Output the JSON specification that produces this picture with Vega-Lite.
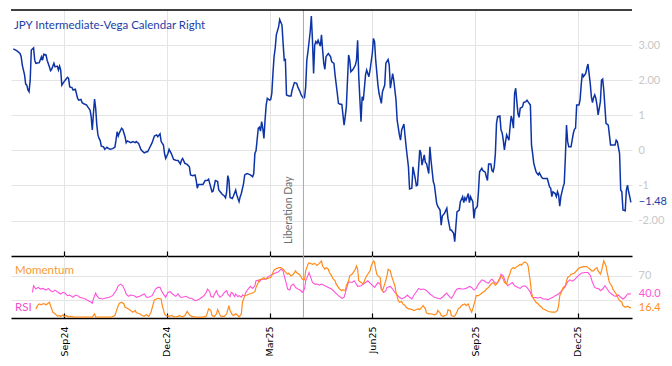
{
"$schema": "https://vega.github.io/schema/vega-lite/v6.json",
"padding": {"left": 10, "top": 9, "right": 0, "bottom": 0},
"config": {"view": {"stroke": null}, "font": "Lato"},
"spacing": 0,
"bounds": "flush",
"datasets": {
"main": [
{"d":"2024-07-19","v":2.89},{"d":"2024-07-22","v":2.84},{"d":"2024-07-25","v":2.76},{"d":"2024-07-26","v":2.67},{"d":"2024-07-27","v":2.43},{"d":"2024-07-29","v":2.15},{"d":"2024-07-30","v":1.89},{"d":"2024-07-31","v":1.86},{"d":"2024-08-01","v":1.72},{"d":"2024-08-02","v":1.67},{"d":"2024-08-03","v":2.00},{"d":"2024-08-04","v":2.86},{"d":"2024-08-06","v":2.92},{"d":"2024-08-07","v":2.57},{"d":"2024-08-08","v":2.48},{"d":"2024-08-11","v":2.50},{"d":"2024-08-13","v":2.67},{"d":"2024-08-14","v":2.57},{"d":"2024-08-15","v":2.74},{"d":"2024-08-17","v":2.72},{"d":"2024-08-18","v":2.57},{"d":"2024-08-20","v":2.38},{"d":"2024-08-21","v":2.27},{"d":"2024-08-22","v":2.31},{"d":"2024-08-24","v":2.48},{"d":"2024-08-25","v":2.38},{"d":"2024-08-27","v":2.40},{"d":"2024-08-28","v":2.29},{"d":"2024-08-29","v":2.40},{"d":"2024-08-30","v":2.29},{"d":"2024-08-31","v":1.86},
{"d":"2024-09-01","v":1.91},{"d":"2024-09-03","v":2.00},{"d":"2024-09-05","v":2.08},{"d":"2024-09-06","v":2.05},{"d":"2024-09-07","v":1.81},{"d":"2024-09-09","v":1.79},{"d":"2024-09-10","v":1.72},{"d":"2024-09-12","v":1.74},{"d":"2024-09-14","v":1.48},{"d":"2024-09-15","v":1.43},{"d":"2024-09-17","v":1.45},{"d":"2024-09-18","v":1.36},{"d":"2024-09-20","v":1.32},{"d":"2024-09-22","v":1.29},{"d":"2024-09-23","v":1.24},{"d":"2024-09-25","v":1.15},{"d":"2024-09-26","v":0.96},{"d":"2024-09-27","v":0.58},{"d":"2024-09-28","v":1.05},{"d":"2024-09-29","v":1.46},{"d":"2024-09-30","v":1.20},
{"d":"2024-10-01","v":0.72},{"d":"2024-10-02","v":0.44},{"d":"2024-10-03","v":0.34},{"d":"2024-10-04","v":0.28},{"d":"2024-10-05","v":0.12},{"d":"2024-10-07","v":0.10},{"d":"2024-10-08","v":0.03},{"d":"2024-10-10","v":0.09},{"d":"2024-10-11","v":0.06},{"d":"2024-10-13","v":0.03},{"d":"2024-10-15","v":0.05},{"d":"2024-10-17","v":0.09},{"d":"2024-10-18","v":0.29},{"d":"2024-10-19","v":0.53},{"d":"2024-10-20","v":0.41},{"d":"2024-10-21","v":0.50},{"d":"2024-10-23","v":0.63},{"d":"2024-10-24","v":0.60},{"d":"2024-10-26","v":0.39},{"d":"2024-10-27","v":0.22},{"d":"2024-10-28","v":0.27},{"d":"2024-10-31","v":0.22},
{"d":"2024-11-02","v":0.25},{"d":"2024-11-04","v":0.22},{"d":"2024-11-05","v":0.25},{"d":"2024-11-07","v":0.20},{"d":"2024-11-09","v":0.03},{"d":"2024-11-10","v":-0.01},{"d":"2024-11-12","v":-0.07},{"d":"2024-11-14","v":-0.04},{"d":"2024-11-15","v":-0.04},{"d":"2024-11-17","v":0.09},{"d":"2024-11-19","v":0.22},{"d":"2024-11-21","v":0.41},{"d":"2024-11-23","v":0.44},{"d":"2024-11-24","v":0.39},{"d":"2024-11-26","v":0.47},{"d":"2024-11-27","v":0.25},{"d":"2024-11-29","v":0.15},{"d":"2024-11-30","v":-0.09},
{"d":"2024-12-01","v":-0.23},{"d":"2024-12-03","v":-0.09},{"d":"2024-12-04","v":0.03},{"d":"2024-12-06","v":-0.09},{"d":"2024-12-08","v":-0.26},{"d":"2024-12-10","v":-0.28},{"d":"2024-12-12","v":-0.29},{"d":"2024-12-14","v":-0.39},{"d":"2024-12-15","v":-0.28},{"d":"2024-12-16","v":-0.23},{"d":"2024-12-18","v":-0.37},{"d":"2024-12-20","v":-0.40},{"d":"2024-12-22","v":-0.47},{"d":"2024-12-23","v":-0.70},{"d":"2024-12-25","v":-0.72},{"d":"2024-12-27","v":-0.70},{"d":"2024-12-28","v":-0.85},{"d":"2024-12-29","v":-1.08},{"d":"2024-12-30","v":-0.97},
{"d":"2025-01-01","v":-0.97},{"d":"2025-01-03","v":-0.97},{"d":"2025-01-05","v":-0.86},{"d":"2025-01-07","v":-0.85},{"d":"2025-01-08","v":-0.82},{"d":"2025-01-09","v":-0.94},{"d":"2025-01-11","v":-1.18},{"d":"2025-01-12","v":-1.16},{"d":"2025-01-13","v":-1.01},{"d":"2025-01-14","v":-0.86},{"d":"2025-01-16","v":-0.89},{"d":"2025-01-17","v":-1.13},{"d":"2025-01-19","v":-1.21},{"d":"2025-01-20","v":-1.25},{"d":"2025-01-22","v":-1.30},{"d":"2025-01-23","v":-1.35},{"d":"2025-01-24","v":-1.18},{"d":"2025-01-25","v":-0.72},{"d":"2025-01-26","v":-0.85},{"d":"2025-01-27","v":-1.34},{"d":"2025-01-29","v":-1.37},{"d":"2025-01-30","v":-1.30},
{"d":"2025-02-01","v":-1.13},{"d":"2025-02-02","v":-1.27},{"d":"2025-02-03","v":-1.37},{"d":"2025-02-04","v":-1.46},{"d":"2025-02-05","v":-1.32},{"d":"2025-02-06","v":-1.23},{"d":"2025-02-08","v":-0.94},{"d":"2025-02-09","v":-0.70},{"d":"2025-02-11","v":-0.66},{"d":"2025-02-12","v":-0.67},{"d":"2025-02-14","v":-0.70},{"d":"2025-02-16","v":-0.75},{"d":"2025-02-17","v":-0.66},{"d":"2025-02-18","v":-0.09},{"d":"2025-02-19","v":-0.01},{"d":"2025-02-21","v":0.63},{"d":"2025-02-22","v":0.66},{"d":"2025-02-23","v":0.55},{"d":"2025-02-24","v":0.82},{"d":"2025-02-25","v":0.63},{"d":"2025-02-26","v":0.34},{"d":"2025-02-27","v":0.86},{"d":"2025-02-28","v":1.29},
{"d":"2025-03-01","v":1.48},{"d":"2025-03-03","v":1.43},{"d":"2025-03-04","v":1.45},{"d":"2025-03-05","v":1.62},{"d":"2025-03-06","v":2.19},{"d":"2025-03-07","v":2.67},{"d":"2025-03-08","v":2.91},{"d":"2025-03-09","v":3.29},{"d":"2025-03-11","v":3.52},{"d":"2025-03-12","v":3.73},{"d":"2025-03-14","v":3.57},{"d":"2025-03-15","v":3.05},{"d":"2025-03-16","v":2.57},{"d":"2025-03-17","v":2.59},{"d":"2025-03-18","v":1.58},{"d":"2025-03-20","v":1.55},{"d":"2025-03-22","v":1.55},{"d":"2025-03-23","v":1.72},{"d":"2025-03-25","v":1.93},{"d":"2025-03-27","v":1.91},{"d":"2025-03-28","v":1.81},{"d":"2025-03-30","v":1.67},{"d":"2025-03-31","v":1.58},
{"d":"2025-04-02","v":1.48},{"d":"2025-04-03","v":1.51},{"d":"2025-04-04","v":1.81},{"d":"2025-04-05","v":2.57},{"d":"2025-04-06","v":2.81},{"d":"2025-04-08","v":3.38},{"d":"2025-04-09","v":3.83},{"d":"2025-04-10","v":3.14},{"d":"2025-04-11","v":2.19},{"d":"2025-04-12","v":3.00},{"d":"2025-04-13","v":3.10},{"d":"2025-04-14","v":3.05},{"d":"2025-04-15","v":3.14},{"d":"2025-04-17","v":2.97},{"d":"2025-04-18","v":3.29},{"d":"2025-04-19","v":2.86},{"d":"2025-04-20","v":2.48},{"d":"2025-04-21","v":2.31},{"d":"2025-04-22","v":2.67},{"d":"2025-04-24","v":2.76},{"d":"2025-04-26","v":2.67},{"d":"2025-04-27","v":2.53},{"d":"2025-04-29","v":2.48},{"d":"2025-04-30","v":2.15},
{"d":"2025-05-02","v":1.62},{"d":"2025-05-03","v":1.34},{"d":"2025-05-04","v":1.32},{"d":"2025-05-06","v":1.31},{"d":"2025-05-08","v":0.72},{"d":"2025-05-09","v":0.96},{"d":"2025-05-10","v":1.24},{"d":"2025-05-12","v":2.72},{"d":"2025-05-13","v":2.57},{"d":"2025-05-14","v":2.24},{"d":"2025-05-16","v":2.31},{"d":"2025-05-18","v":2.43},{"d":"2025-05-19","v":2.57},{"d":"2025-05-20","v":3.14},{"d":"2025-05-21","v":2.10},{"d":"2025-05-23","v":0.82},{"d":"2025-05-24","v":1.53},{"d":"2025-05-25","v":1.42},{"d":"2025-05-27","v":2.15},{"d":"2025-05-28","v":2.29},{"d":"2025-05-30","v":2.10},{"d":"2025-05-31","v":2.29},
{"d":"2025-06-02","v":2.76},{"d":"2025-06-03","v":3.19},{"d":"2025-06-04","v":3.10},{"d":"2025-06-05","v":2.57},{"d":"2025-06-07","v":1.86},{"d":"2025-06-08","v":1.62},{"d":"2025-06-10","v":1.34},{"d":"2025-06-11","v":1.67},{"d":"2025-06-13","v":1.86},{"d":"2025-06-14","v":2.48},{"d":"2025-06-16","v":2.59},{"d":"2025-06-17","v":2.43},{"d":"2025-06-18","v":1.77},{"d":"2025-06-20","v":2.19},{"d":"2025-06-21","v":2.00},{"d":"2025-06-23","v":1.43},{"d":"2025-06-24","v":0.86},{"d":"2025-06-26","v":0.44},{"d":"2025-06-27","v":0.29},{"d":"2025-06-28","v":0.58},{"d":"2025-06-30","v":0.75},
{"d":"2025-07-01","v":0.41},{"d":"2025-07-02","v":0.09},{"d":"2025-07-04","v":-0.47},{"d":"2025-07-05","v":-1.10},{"d":"2025-07-07","v":-1.08},{"d":"2025-07-08","v":-0.47},{"d":"2025-07-10","v":-0.80},{"d":"2025-07-11","v":-1.01},{"d":"2025-07-12","v":-0.99},{"d":"2025-07-14","v":0.01},{"d":"2025-07-15","v":-0.07},{"d":"2025-07-16","v":-0.42},{"d":"2025-07-18","v":-0.13},{"d":"2025-07-19","v":-0.35},{"d":"2025-07-20","v":-0.37},{"d":"2025-07-22","v":-0.66},{"d":"2025-07-23","v":0.10},{"d":"2025-07-24","v":-0.28},{"d":"2025-07-26","v":-0.89},{"d":"2025-07-27","v":-0.99},{"d":"2025-07-29","v":-1.51},{"d":"2025-07-30","v":-1.60},
{"d":"2025-08-01","v":-1.70},{"d":"2025-08-02","v":-2.13},{"d":"2025-08-03","v":-1.87},{"d":"2025-08-05","v":-1.79},{"d":"2025-08-07","v":-1.65},{"d":"2025-08-08","v":-1.94},{"d":"2025-08-10","v":-2.27},{"d":"2025-08-11","v":-2.27},{"d":"2025-08-13","v":-2.36},{"d":"2025-08-14","v":-2.60},{"d":"2025-08-15","v":-2.17},{"d":"2025-08-16","v":-1.75},{"d":"2025-08-18","v":-1.70},{"d":"2025-08-19","v":-1.46},{"d":"2025-08-21","v":-1.32},{"d":"2025-08-22","v":-1.49},{"d":"2025-08-23","v":-1.35},{"d":"2025-08-24","v":-1.42},{"d":"2025-08-26","v":-1.23},{"d":"2025-08-27","v":-1.49},{"d":"2025-08-28","v":-1.32},{"d":"2025-08-30","v":-1.46},{"d":"2025-08-31","v":-1.94},
{"d":"2025-09-01","v":-1.68},{"d":"2025-09-03","v":-1.60},{"d":"2025-09-04","v":-1.18},{"d":"2025-09-05","v":-0.61},{"d":"2025-09-07","v":-0.51},{"d":"2025-09-08","v":-0.58},{"d":"2025-09-10","v":-0.62},{"d":"2025-09-11","v":-0.75},{"d":"2025-09-12","v":-0.86},{"d":"2025-09-13","v":-0.39},{"d":"2025-09-15","v":-0.39},{"d":"2025-09-16","v":-0.58},{"d":"2025-09-17","v":-0.61},{"d":"2025-09-18","v":-0.47},{"d":"2025-09-19","v":-0.09},{"d":"2025-09-20","v":0.77},{"d":"2025-09-21","v":0.96},{"d":"2025-09-23","v":0.98},{"d":"2025-09-24","v":0.58},{"d":"2025-09-25","v":0.50},{"d":"2025-09-26","v":0.29},{"d":"2025-09-27","v":0.01},{"d":"2025-09-28","v":0.25},{"d":"2025-09-29","v":0.44},
{"d":"2025-10-01","v":0.29},{"d":"2025-10-02","v":0.67},{"d":"2025-10-03","v":0.98},{"d":"2025-10-04","v":0.86},{"d":"2025-10-05","v":0.63},{"d":"2025-10-06","v":1.62},{"d":"2025-10-07","v":1.77},{"d":"2025-10-08","v":1.39},{"d":"2025-10-09","v":1.05},{"d":"2025-10-10","v":0.94},{"d":"2025-10-11","v":1.20},{"d":"2025-10-13","v":1.24},{"d":"2025-10-14","v":1.36},{"d":"2025-10-16","v":1.39},{"d":"2025-10-17","v":1.43},{"d":"2025-10-18","v":1.38},{"d":"2025-10-20","v":1.29},{"d":"2025-10-21","v":0.15},{"d":"2025-10-22","v":-0.09},{"d":"2025-10-23","v":-0.37},{"d":"2025-10-25","v":-0.61},{"d":"2025-10-26","v":-0.66},{"d":"2025-10-27","v":-0.70},{"d":"2025-10-28","v":-0.64},{"d":"2025-10-30","v":-0.77},{"d":"2025-10-31","v":-0.80},
{"d":"2025-11-02","v":-0.80},{"d":"2025-11-04","v":-0.80},{"d":"2025-11-06","v":-1.04},{"d":"2025-11-07","v":-1.08},{"d":"2025-11-08","v":-1.32},{"d":"2025-11-09","v":-1.18},{"d":"2025-11-11","v":-1.23},{"d":"2025-11-12","v":-1.32},{"d":"2025-11-13","v":-1.18},{"d":"2025-11-14","v":-1.27},{"d":"2025-11-15","v":-1.59},{"d":"2025-11-16","v":-1.32},{"d":"2025-11-18","v":-1.04},{"d":"2025-11-19","v":-0.94},{"d":"2025-11-20","v":-0.18},{"d":"2025-11-21","v":0.72},{"d":"2025-11-22","v":0.25},{"d":"2025-11-23","v":0.10},{"d":"2025-11-25","v":0.10},{"d":"2025-11-27","v":0.48},{"d":"2025-11-28","v":0.60},{"d":"2025-11-29","v":0.63},{"d":"2025-11-30","v":1.29},
{"d":"2025-12-02","v":1.29},{"d":"2025-12-03","v":1.43},{"d":"2025-12-04","v":1.86},{"d":"2025-12-05","v":2.19},{"d":"2025-12-06","v":2.10},{"d":"2025-12-08","v":2.19},{"d":"2025-12-09","v":2.34},{"d":"2025-12-10","v":2.46},{"d":"2025-12-12","v":1.91},{"d":"2025-12-13","v":1.53},{"d":"2025-12-14","v":1.36},{"d":"2025-12-15","v":1.51},{"d":"2025-12-16","v":1.58},{"d":"2025-12-17","v":1.48},{"d":"2025-12-18","v":1.29},{"d":"2025-12-19","v":1.01},{"d":"2025-12-21","v":1.39},{"d":"2025-12-22","v":2.00},{"d":"2025-12-23","v":2.03},{"d":"2025-12-24","v":1.72},{"d":"2025-12-25","v":1.24},{"d":"2025-12-26","v":0.77},{"d":"2025-12-28","v":0.72},{"d":"2025-12-29","v":0.44},{"d":"2025-12-30","v":0.15},
{"d":"2026-01-01","v":0.15},{"d":"2026-01-03","v":0.15},{"d":"2026-01-04","v":0.29},{"d":"2026-01-05","v":0.25},{"d":"2026-01-07","v":-0.09},{"d":"2026-01-08","v":-1.13},{"d":"2026-01-09","v":-1.18},{"d":"2026-01-10","v":-1.70},{"d":"2026-01-12","v":-1.72},{"d":"2026-01-13","v":-1.13},{"d":"2026-01-14","v":-0.99},{"d":"2026-01-15","v":-1.18},{"d":"2026-01-16","v":-1.32},{"d":"2026-01-17","v":-1.48}
],
"rsi": [
{"d":"2024-08-05","v":42.6},{"d":"2024-08-06","v":53.6},{"d":"2024-08-08","v":48.1},{"d":"2024-08-10","v":50.8},{"d":"2024-08-12","v":48.1},{"d":"2024-08-14","v":49.2},{"d":"2024-08-17","v":46.4},{"d":"2024-08-19","v":49.2},{"d":"2024-08-21","v":45.3},{"d":"2024-08-23","v":43.7},{"d":"2024-08-25","v":46.4},{"d":"2024-08-27","v":43.7},{"d":"2024-08-30","v":39.9},{"d":"2024-09-01","v":42.6},{"d":"2024-09-03","v":41.0},{"d":"2024-09-05","v":37.1},{"d":"2024-09-07","v":38.2},{"d":"2024-09-10","v":34.4},{"d":"2024-09-12","v":38.2},{"d":"2024-09-14","v":37.1},{"d":"2024-09-16","v":34.4},{"d":"2024-09-19","v":32.7},{"d":"2024-09-21","v":31.6},{"d":"2024-09-23","v":28.9},{"d":"2024-09-26","v":26.2},{"d":"2024-09-27","v":24.5},{"d":"2024-09-28","v":31.6},{"d":"2024-09-30","v":41.5},{"d":"2024-10-01","v":37.1},{"d":"2024-10-03","v":32.7},{"d":"2024-10-06","v":31.6},{"d":"2024-10-09","v":33.3},{"d":"2024-10-12","v":34.4},{"d":"2024-10-15","v":37.1},{"d":"2024-10-18","v":45.3},{"d":"2024-10-20","v":53.6},{"d":"2024-10-22","v":56.3},{"d":"2024-10-24","v":53.6},{"d":"2024-10-26","v":45.3},{"d":"2024-10-27","v":39.9},{"d":"2024-10-29","v":36.0},{"d":"2024-10-31","v":38.2},{"d":"2024-11-03","v":37.1},{"d":"2024-11-05","v":34.4},{"d":"2024-11-08","v":36.0},{"d":"2024-11-10","v":38.2},{"d":"2024-11-12","v":39.9},{"d":"2024-11-14","v":34.4},{"d":"2024-11-16","v":34.4},{"d":"2024-11-19","v":37.1},{"d":"2024-11-22","v":48.1},{"d":"2024-11-24","v":50.8},{"d":"2024-11-26","v":50.8},{"d":"2024-11-28","v":42.6},{"d":"2024-11-30","v":37.1},{"d":"2024-12-01","v":34.4},{"d":"2024-12-03","v":42.6},{"d":"2024-12-05","v":43.7},{"d":"2024-12-07","v":39.9},{"d":"2024-12-10","v":36.0},{"d":"2024-12-12","v":39.9},{"d":"2024-12-14","v":34.4},{"d":"2024-12-16","v":34.4},{"d":"2024-12-19","v":36.0},{"d":"2024-12-22","v":32.7},{"d":"2024-12-24","v":32.7},{"d":"2024-12-27","v":28.9},{"d":"2024-12-29","v":30.0},{"d":"2024-12-31","v":31.6},
{"d":"2025-01-02","v":34.4},{"d":"2025-01-04","v":37.1},{"d":"2025-01-06","v":42.6},{"d":"2025-01-07","v":48.1},{"d":"2025-01-09","v":43.7},{"d":"2025-01-10","v":36.0},{"d":"2025-01-12","v":34.4},{"d":"2025-01-14","v":42.6},{"d":"2025-01-15","v":45.3},{"d":"2025-01-16","v":39.9},{"d":"2025-01-18","v":34.4},{"d":"2025-01-20","v":37.1},{"d":"2025-01-22","v":42.6},{"d":"2025-01-24","v":45.3},{"d":"2025-01-25","v":39.9},{"d":"2025-01-27","v":35.5},{"d":"2025-01-28","v":42.6},{"d":"2025-01-29","v":41.5},{"d":"2025-01-31","v":35.5},{"d":"2025-02-01","v":39.9},{"d":"2025-02-03","v":35.5},{"d":"2025-02-04","v":37.1},{"d":"2025-02-06","v":34.4},{"d":"2025-02-07","v":38.2},{"d":"2025-02-09","v":37.1},{"d":"2025-02-10","v":42.6},{"d":"2025-02-12","v":48.1},{"d":"2025-02-14","v":52.5},{"d":"2025-02-16","v":49.2},{"d":"2025-02-18","v":53.6},{"d":"2025-02-19","v":61.8},{"d":"2025-02-21","v":62.9},{"d":"2025-02-22","v":60.1},{"d":"2025-02-24","v":64.5},{"d":"2025-02-26","v":64.5},{"d":"2025-02-28","v":64.5},{"d":"2025-03-01","v":67.3},{"d":"2025-03-03","v":70.0},{"d":"2025-03-06","v":72.7},{"d":"2025-03-09","v":75.5},{"d":"2025-03-11","v":76.6},{"d":"2025-03-13","v":81.0},{"d":"2025-03-15","v":78.2},{"d":"2025-03-16","v":70.0},{"d":"2025-03-18","v":56.3},{"d":"2025-03-19","v":48.1},{"d":"2025-03-21","v":46.4},{"d":"2025-03-22","v":53.6},{"d":"2025-03-24","v":56.3},{"d":"2025-03-26","v":50.8},{"d":"2025-03-28","v":48.1},{"d":"2025-03-30","v":46.4},{"d":"2025-04-01","v":42.6},{"d":"2025-04-03","v":48.1},{"d":"2025-04-04","v":61.8},{"d":"2025-04-07","v":75.5},{"d":"2025-04-08","v":70.0},{"d":"2025-04-10","v":59.0},{"d":"2025-04-12","v":56.3},{"d":"2025-04-14","v":56.3},{"d":"2025-04-16","v":54.7},
{"d":"2025-04-18","v":56.3},{"d":"2025-04-21","v":53.6},{"d":"2025-04-24","v":50.8},{"d":"2025-04-27","v":48.1},{"d":"2025-04-30","v":42.6},{"d":"2025-05-03","v":37.1},{"d":"2025-05-06","v":32.7},{"d":"2025-05-08","v":34.4},{"d":"2025-05-10","v":48.1},{"d":"2025-05-12","v":60.1},{"d":"2025-05-15","v":59.0},{"d":"2025-05-17","v":61.8},{"d":"2025-05-18","v":59.0},{"d":"2025-05-20","v":52.5},{"d":"2025-05-23","v":53.6},{"d":"2025-05-25","v":56.3},{"d":"2025-05-27","v":59.0},{"d":"2025-05-29","v":61.8},{"d":"2025-06-01","v":56.3},{"d":"2025-06-03","v":52.5},{"d":"2025-06-04","v":50.8},{"d":"2025-06-06","v":56.3},{"d":"2025-06-07","v":59.0},{"d":"2025-06-09","v":56.3},{"d":"2025-06-10","v":48.1},{"d":"2025-06-12","v":42.6},{"d":"2025-06-14","v":45.3},{"d":"2025-06-15","v":50.8},{"d":"2025-06-18","v":52.5},{"d":"2025-06-20","v":48.1},{"d":"2025-06-22","v":42.6},{"d":"2025-06-24","v":38.2},{"d":"2025-06-26","v":34.4},{"d":"2025-06-28","v":31.6},{"d":"2025-07-01","v":34.4},{"d":"2025-07-03","v":38.2},{"d":"2025-07-05","v":34.4},{"d":"2025-07-07","v":31.6},{"d":"2025-07-09","v":38.2},{"d":"2025-07-11","v":43.7},{"d":"2025-07-13","v":49.2},{"d":"2025-07-15","v":46.9},{"d":"2025-07-17","v":48.1},{"d":"2025-07-19","v":46.9},{"d":"2025-07-21","v":43.7},{"d":"2025-07-23","v":39.9},{"d":"2025-07-25","v":37.1},{"d":"2025-07-27","v":34.4},{"d":"2025-07-30","v":32.7},{"d":"2025-08-01","v":31.6},{"d":"2025-08-03","v":34.4},{"d":"2025-08-05","v":38.2},{"d":"2025-08-07","v":41.5},{"d":"2025-08-08","v":38.2},{"d":"2025-08-10","v":34.4},{"d":"2025-08-11","v":32.7},{"d":"2025-08-13","v":38.2},{"d":"2025-08-14","v":42.6},{"d":"2025-08-16","v":48.1},{"d":"2025-08-18","v":49.2},{"d":"2025-08-20","v":48.1},{"d":"2025-08-22","v":48.1},{"d":"2025-08-24","v":49.2},{"d":"2025-08-27","v":52.5},{"d":"2025-08-29","v":50.8},{"d":"2025-08-31","v":46.4},
{"d":"2025-09-02","v":49.2},{"d":"2025-09-04","v":56.3},{"d":"2025-09-07","v":63.4},{"d":"2025-09-09","v":61.8},{"d":"2025-09-11","v":59.0},{"d":"2025-09-13","v":57.9},{"d":"2025-09-15","v":63.4},{"d":"2025-09-16","v":64.5},{"d":"2025-09-18","v":60.1},{"d":"2025-09-20","v":57.4},{"d":"2025-09-21","v":59.0},{"d":"2025-09-23","v":64.5},{"d":"2025-09-24","v":72.7},{"d":"2025-09-26","v":70.0},{"d":"2025-09-28","v":59.0},{"d":"2025-09-30","v":53.6},{"d":"2025-10-02","v":56.3},{"d":"2025-10-04","v":59.0},{"d":"2025-10-06","v":53.6},{"d":"2025-10-09","v":50.8},{"d":"2025-10-11","v":49.2},{"d":"2025-10-13","v":52.5},{"d":"2025-10-15","v":53.6},{"d":"2025-10-17","v":50.8},{"d":"2025-10-18","v":48.1},{"d":"2025-10-20","v":42.6},{"d":"2025-10-21","v":37.1},{"d":"2025-10-22","v":34.4},{"d":"2025-10-25","v":33.8},{"d":"2025-10-27","v":33.3},{"d":"2025-10-29","v":34.4},{"d":"2025-10-31","v":31.6},{"d":"2025-11-02","v":31.6},{"d":"2025-11-05","v":30.5},{"d":"2025-11-07","v":32.7},{"d":"2025-11-09","v":34.4},{"d":"2025-11-11","v":37.1},{"d":"2025-11-14","v":39.9},{"d":"2025-11-16","v":43.7},{"d":"2025-11-18","v":48.1},{"d":"2025-11-20","v":52.5},{"d":"2025-11-22","v":60.1},{"d":"2025-11-24","v":63.4},{"d":"2025-11-26","v":61.2},{"d":"2025-11-28","v":63.4},{"d":"2025-11-30","v":67.3},{"d":"2025-12-02","v":71.1},{"d":"2025-12-04","v":74.4},{"d":"2025-12-07","v":75.5},{"d":"2025-12-10","v":75.5},{"d":"2025-12-12","v":71.1},{"d":"2025-12-14","v":59.0},{"d":"2025-12-16","v":50.8},{"d":"2025-12-18","v":49.2},{"d":"2025-12-20","v":48.1},{"d":"2025-12-21","v":45.3},{"d":"2025-12-23","v":48.1},{"d":"2025-12-25","v":53.6},{"d":"2025-12-27","v":48.1},{"d":"2025-12-29","v":42.6},{"d":"2025-12-31","v":39.9},{"d":"2026-01-02","v":37.1},{"d":"2026-01-04","v":36.0},{"d":"2026-01-06","v":38.2},{"d":"2026-01-08","v":34.4},{"d":"2026-01-10","v":31.6},{"d":"2026-01-12","v":34.4},{"d":"2026-01-14","v":39.9},{"d":"2026-01-17","v":40.0}
],
"mom": [
{"d":"2024-08-08","v":15.2},{"d":"2024-08-10","v":21.8},{"d":"2024-08-11","v":23.4},{"d":"2024-08-13","v":21.8},{"d":"2024-08-14","v":23.4},{"d":"2024-08-16","v":23.4},{"d":"2024-08-17","v":21.8},{"d":"2024-08-20","v":26.2},{"d":"2024-08-22","v":15.2},{"d":"2024-08-23","v":9.7},{"d":"2024-08-25","v":7.0},{"d":"2024-08-26","v":5.3},{"d":"2024-08-27","v":3.2},{"d":"2024-08-29","v":4.2},{"d":"2024-08-30","v":2.6},{"d":"2024-09-01","v":5.3},{"d":"2024-09-02","v":2.6},{"d":"2024-09-04","v":4.2},{"d":"2024-09-06","v":1.5},{"d":"2024-09-08","v":2.6},{"d":"2024-09-11","v":1.5},{"d":"2024-09-16","v":1.5},{"d":"2024-09-22","v":1.5},{"d":"2024-09-27","v":1.5},{"d":"2024-09-29","v":7.0},{"d":"2024-09-30","v":1.5},{"d":"2024-10-03","v":1.5},{"d":"2024-10-09","v":1.5},{"d":"2024-10-14","v":1.5},{"d":"2024-10-17","v":4.2},{"d":"2024-10-18","v":9.7},{"d":"2024-10-20","v":20.7},{"d":"2024-10-21","v":24.5},{"d":"2024-10-23","v":26.2},{"d":"2024-10-25","v":23.4},{"d":"2024-10-26","v":17.9},{"d":"2024-10-28","v":16.3},{"d":"2024-10-31","v":12.5},{"d":"2024-11-02","v":9.7},{"d":"2024-11-04","v":12.5},{"d":"2024-11-05","v":8.6},{"d":"2024-11-08","v":7.0},{"d":"2024-11-10","v":4.2},{"d":"2024-11-12","v":3.2},{"d":"2024-11-14","v":5.3},{"d":"2024-11-16","v":2.6},{"d":"2024-11-18","v":9.7},{"d":"2024-11-20","v":23.4},{"d":"2024-11-21","v":30.0},{"d":"2024-11-24","v":32.7},{"d":"2024-11-27","v":31.6},{"d":"2024-11-28","v":20.7},{"d":"2024-11-30","v":7.0},{"d":"2024-12-01","v":4.2},{"d":"2024-12-04","v":2.6},{"d":"2024-12-06","v":4.2},{"d":"2024-12-09","v":1.5},{"d":"2024-12-12","v":2.6},{"d":"2024-12-13","v":4.2},{"d":"2024-12-16","v":1.5},{"d":"2024-12-18","v":4.2},{"d":"2024-12-20","v":10.8},{"d":"2024-12-22","v":5.3},{"d":"2024-12-24","v":2.6},{"d":"2024-12-27","v":1.5},{"d":"2024-12-29","v":1.5},
{"d":"2025-01-03","v":1.5},{"d":"2025-01-06","v":3.2},{"d":"2025-01-08","v":15.2},{"d":"2025-01-10","v":12.5},{"d":"2025-01-11","v":4.2},{"d":"2025-01-13","v":2.6},{"d":"2025-01-15","v":7.0},{"d":"2025-01-16","v":14.1},{"d":"2025-01-18","v":5.3},{"d":"2025-01-19","v":2.6},{"d":"2025-01-22","v":2.6},{"d":"2025-01-24","v":7.0},{"d":"2025-01-26","v":20.7},{"d":"2025-01-27","v":12.5},{"d":"2025-01-29","v":5.3},{"d":"2025-01-30","v":4.2},{"d":"2025-02-01","v":7.0},{"d":"2025-02-03","v":4.2},{"d":"2025-02-04","v":1.5},{"d":"2025-02-06","v":7.0},{"d":"2025-02-07","v":26.2},{"d":"2025-02-09","v":37.1},{"d":"2025-02-11","v":38.2},{"d":"2025-02-13","v":39.9},{"d":"2025-02-16","v":41.5},{"d":"2025-02-18","v":43.7},{"d":"2025-02-19","v":50.8},{"d":"2025-02-21","v":59.0},{"d":"2025-02-22","v":63.4},{"d":"2025-02-24","v":64.5},{"d":"2025-02-26","v":67.3},{"d":"2025-02-27","v":64.5},{"d":"2025-03-01","v":65.6},{"d":"2025-03-04","v":67.3},{"d":"2025-03-05","v":71.1},{"d":"2025-03-07","v":79.9},{"d":"2025-03-09","v":82.1},{"d":"2025-03-11","v":83.7},{"d":"2025-03-13","v":83.7},{"d":"2025-03-15","v":81.0},{"d":"2025-03-17","v":76.6},{"d":"2025-03-19","v":72.7},{"d":"2025-03-20","v":74.4},{"d":"2025-03-22","v":70.0},{"d":"2025-03-24","v":72.7},{"d":"2025-03-26","v":78.2},{"d":"2025-03-27","v":75.5},{"d":"2025-03-30","v":71.1},{"d":"2025-04-01","v":64.5},{"d":"2025-04-03","v":63.4},{"d":"2025-04-04","v":78.2},{"d":"2025-04-06","v":89.2},{"d":"2025-04-07","v":91.9},{"d":"2025-04-10","v":89.2},{"d":"2025-04-12","v":90.8},{"d":"2025-04-14","v":87.5},{"d":"2025-04-16","v":90.8},
{"d":"2025-04-18","v":94.7},{"d":"2025-04-19","v":86.4},{"d":"2025-04-21","v":81.0},{"d":"2025-04-22","v":83.7},{"d":"2025-04-24","v":81.0},{"d":"2025-04-25","v":75.5},{"d":"2025-04-27","v":70.0},{"d":"2025-04-28","v":65.6},{"d":"2025-04-30","v":61.8},{"d":"2025-05-01","v":56.3},{"d":"2025-05-03","v":50.8},{"d":"2025-05-04","v":48.1},{"d":"2025-05-06","v":45.3},{"d":"2025-05-07","v":46.9},{"d":"2025-05-09","v":45.3},{"d":"2025-05-10","v":53.6},{"d":"2025-05-12","v":61.8},{"d":"2025-05-13","v":70.0},{"d":"2025-05-15","v":72.7},{"d":"2025-05-16","v":75.5},{"d":"2025-05-18","v":81.0},{"d":"2025-05-19","v":86.4},{"d":"2025-05-20","v":81.0},{"d":"2025-05-21","v":61.8},{"d":"2025-05-23","v":59.0},{"d":"2025-05-25","v":56.3},{"d":"2025-05-26","v":61.8},{"d":"2025-05-28","v":70.0},{"d":"2025-05-29","v":72.7},{"d":"2025-05-31","v":78.2},{"d":"2025-06-01","v":86.4},{"d":"2025-06-03","v":94.7},{"d":"2025-06-04","v":93.0},{"d":"2025-06-05","v":81.0},{"d":"2025-06-06","v":72.7},{"d":"2025-06-07","v":70.0},{"d":"2025-06-09","v":67.3},{"d":"2025-06-10","v":48.1},{"d":"2025-06-11","v":45.3},{"d":"2025-06-13","v":56.3},{"d":"2025-06-15","v":70.0},{"d":"2025-06-16","v":81.0},{"d":"2025-06-18","v":78.2},{"d":"2025-06-19","v":70.0},{"d":"2025-06-20","v":64.5},{"d":"2025-06-22","v":53.6},{"d":"2025-06-23","v":42.6},{"d":"2025-06-25","v":28.9},{"d":"2025-06-26","v":26.2},{"d":"2025-06-28","v":27.3},{"d":"2025-06-29","v":23.4},{"d":"2025-07-01","v":20.7},{"d":"2025-07-02","v":17.9},{"d":"2025-07-04","v":15.2},{"d":"2025-07-05","v":15.2},{"d":"2025-07-07","v":14.1},{"d":"2025-07-09","v":12.5},{"d":"2025-07-11","v":14.1},{"d":"2025-07-13","v":15.2},{"d":"2025-07-14","v":14.1},{"d":"2025-07-16","v":17.9},{"d":"2025-07-17","v":20.7},{"d":"2025-07-19","v":15.2},{"d":"2025-07-20","v":8.6},{"d":"2025-07-22","v":7.0},{"d":"2025-07-24","v":7.0},{"d":"2025-07-27","v":5.3},{"d":"2025-07-29","v":7.0},{"d":"2025-07-30","v":12.5},{"d":"2025-08-01","v":8.6},{"d":"2025-08-02","v":4.2},{"d":"2025-08-04","v":2.6},{"d":"2025-08-05","v":4.2},{"d":"2025-08-07","v":5.3},{"d":"2025-08-08","v":13.6},{"d":"2025-08-10","v":12.5},{"d":"2025-08-11","v":4.2},{"d":"2025-08-13","v":2.6},{"d":"2025-08-14","v":3.2},{"d":"2025-08-16","v":9.7},{"d":"2025-08-17","v":15.2},{"d":"2025-08-19","v":17.9},{"d":"2025-08-20","v":20.7},{"d":"2025-08-21","v":21.8},{"d":"2025-08-23","v":23.4},{"d":"2025-08-24","v":20.7},{"d":"2025-08-26","v":23.4},{"d":"2025-08-27","v":17.9},{"d":"2025-08-29","v":9.7},{"d":"2025-08-30","v":15.2},
{"d":"2025-09-01","v":28.9},{"d":"2025-09-02","v":37.1},{"d":"2025-09-04","v":37.1},{"d":"2025-09-06","v":39.9},{"d":"2025-09-08","v":42.6},{"d":"2025-09-10","v":45.3},{"d":"2025-09-11","v":48.1},{"d":"2025-09-13","v":50.8},{"d":"2025-09-14","v":53.6},{"d":"2025-09-16","v":57.9},{"d":"2025-09-17","v":59.0},{"d":"2025-09-19","v":54.7},{"d":"2025-09-20","v":56.3},{"d":"2025-09-21","v":59.0},{"d":"2025-09-23","v":67.3},{"d":"2025-09-24","v":70.0},{"d":"2025-09-26","v":64.5},{"d":"2025-09-27","v":59.0},{"d":"2025-09-29","v":56.3},{"d":"2025-09-30","v":64.5},{"d":"2025-10-02","v":74.4},{"d":"2025-10-03","v":81.0},{"d":"2025-10-05","v":83.7},{"d":"2025-10-06","v":82.1},{"d":"2025-10-08","v":85.3},{"d":"2025-10-09","v":86.4},{"d":"2025-10-11","v":89.2},{"d":"2025-10-12","v":87.5},{"d":"2025-10-14","v":91.9},{"d":"2025-10-15","v":93.0},{"d":"2025-10-17","v":90.8},{"d":"2025-10-18","v":86.4},{"d":"2025-10-20","v":59.0},{"d":"2025-10-21","v":42.6},{"d":"2025-10-22","v":34.4},{"d":"2025-10-24","v":28.9},{"d":"2025-10-25","v":26.2},{"d":"2025-10-27","v":23.4},{"d":"2025-10-28","v":20.7},{"d":"2025-10-30","v":17.9},{"d":"2025-10-31","v":15.2},{"d":"2025-11-02","v":13.6},{"d":"2025-11-05","v":10.8},{"d":"2025-11-08","v":9.7},{"d":"2025-11-11","v":9.7},{"d":"2025-11-13","v":12.5},{"d":"2025-11-14","v":20.7},{"d":"2025-11-15","v":37.1},{"d":"2025-11-17","v":45.3},{"d":"2025-11-18","v":50.8},{"d":"2025-11-20","v":53.6},{"d":"2025-11-21","v":61.8},{"d":"2025-11-22","v":67.3},{"d":"2025-11-24","v":70.0},{"d":"2025-11-25","v":72.7},{"d":"2025-11-28","v":74.4},{"d":"2025-12-01","v":81.0},{"d":"2025-12-03","v":83.7},{"d":"2025-12-06","v":85.3},{"d":"2025-12-09","v":85.3},{"d":"2025-12-10","v":83.7},{"d":"2025-12-12","v":81.0},{"d":"2025-12-13","v":78.2},{"d":"2025-12-15","v":78.2},{"d":"2025-12-16","v":81.0},{"d":"2025-12-18","v":83.7},{"d":"2025-12-19","v":78.2},{"d":"2025-12-21","v":72.7},{"d":"2025-12-22","v":78.2},{"d":"2025-12-23","v":86.4},{"d":"2025-12-24","v":94.7},{"d":"2025-12-26","v":86.4},{"d":"2025-12-27","v":75.5},{"d":"2025-12-28","v":67.3},{"d":"2025-12-29","v":59.0},{"d":"2025-12-31","v":53.6},{"d":"2026-01-01","v":48.1},{"d":"2026-01-03","v":42.6},{"d":"2026-01-04","v":39.9},{"d":"2026-01-06","v":31.6},{"d":"2026-01-07","v":28.9},{"d":"2026-01-09","v":26.2},{"d":"2026-01-10","v":20.7},{"d":"2026-01-12","v":17.9},{"d":"2026-01-14","v":19.5},{"d":"2026-01-17","v":16.4}
],
"events": [{"d":"2025-04-02","label":"Liberation Day"}],
"frame": [{"d":"2024-07-17","d2":"2026-01-18"}],
"titles": [{"d":"2024-07-17","t":"JPY Intermediate-Vega Calendar Right"}],
"names": [{"d":"2024-07-17","t":"Momentum","y":103},{"d":"2024-07-17","t":"RSI","y":0}]
},
"vconcat": [
{
"width": 621,
"height": 246,
"encoding": {
"x": {"field": "d", "type": "temporal",
"scale": {"type": "utc", "domain": [{"year":2024,"month":7,"date":17,"utc":true},{"year":2026,"month":1,"date":18,"utc":true}]},
"axis": {"orient": "bottom", "title": null, "labels": false, "tickSize": -5, "tickColor": "#000000", "tickWidth": 1.2, "domainColor": "#000000", "domainWidth": 1.6, "grid": true, "gridColor": "#e4e4e4",
"values": [{"year":2024,"month":9,"date":2,"utc":true},{"year":2024,"month":12,"date":2,"utc":true},{"year":2025,"month":3,"date":3,"utc":true},{"year":2025,"month":6,"date":2,"utc":true},{"year":2025,"month":9,"date":1,"utc":true},{"year":2025,"month":12,"date":1,"utc":true}]}}
},
"layer": [
{"data": {"name": "main"}, "mark": {"type": "line", "color": "#0d34a6", "strokeWidth": 1.5},
"encoding": {"y": {"field": "v", "type": "quantitative", "scale": {"domain": [-3.01, 4.0], "nice": false, "zero": false},
"axis": {"orient": "right", "title": null, "values": [-2,-1,0,1,2,3], "labelExpr": "datum.value==3?'3.00':datum.value==2?'2.00':datum.value==1?'1':datum.value==0?'0':datum.value==-1?'-1':'-2.00'", "grid": true, "gridColor": "#e4e4e4", "domain": false, "ticks": false, "labelColor": "#c8c8c8", "labelFont": "Lato", "labelFontSize": 11, "labelPadding": 6}}}},
{"data": {"name": "events"}, "mark": {"type": "rule", "color": "#a8a8a8", "strokeWidth": 1}, "encoding": {}},
{"data": {"name": "events"}, "mark": {"type": "text", "angle": -90, "align": "left", "baseline": "alphabetic", "dx": 12, "dy": -11, "color": "#6e6e6e", "font": "Lato", "fontSize": 10.5},
"encoding": {"y": {"datum": -3.01}, "text": {"field": "label"}}},
{"data": {"name": "frame"}, "mark": {"type": "rule", "color": "#000000", "strokeWidth": 1.6}, "encoding": {"x2": {"field": "d2"}, "y": {"datum": 4.0}}},
{"data": {"name": "titles"}, "mark": {"type": "text", "align": "left", "baseline": "alphabetic", "dx": 3, "dy": 19, "color": "#1a3ea6", "font": "Lato", "fontSize": 11.5},
"encoding": {"y": {"datum": 4.0}, "text": {"field": "t"}}},
{"data": {"values": [{"d":"2026-01-17","v":-1.48}]}, "mark": {"type": "text", "align": "left", "baseline": "middle", "dx": 8, "color": "#1a3ea6", "font": "Lato", "fontSize": 11},
"encoding": {"y": {"field": "v", "type": "quantitative"}, "text": {"field": "v", "type": "quantitative", "format": ".2f"}}}
]
},
{
"width": 621,
"height": 62,
"encoding": {
"x": {"field": "d", "type": "temporal",
"scale": {"type": "utc", "domain": [{"year":2024,"month":7,"date":17,"utc":true},{"year":2026,"month":1,"date":18,"utc":true}]},
"axis": {"orient": "bottom", "title": null, "labelExpr": "utcFormat(datum.value, '%b%y')", "labelAngle": -90, "labelAlign": "right", "labelBaseline": "middle", "labelFont": "DejaVu Sans", "labelFontSize": 9.5, "labelColor": "#000000", "labelPadding": 13, "tickSize": -5, "tickColor": "#000000", "tickWidth": 1.2, "domainColor": "#000000", "domainWidth": 1.6, "grid": true, "gridColor": "#e4e4e4",
"values": [{"year":2024,"month":9,"date":2,"utc":true},{"year":2024,"month":12,"date":2,"utc":true},{"year":2025,"month":3,"date":3,"utc":true},{"year":2025,"month":6,"date":2,"utc":true},{"year":2025,"month":9,"date":1,"utc":true},{"year":2025,"month":12,"date":1,"utc":true}]}}
},
"layer": [
{"data": {"name": "events"}, "mark": {"type": "rule", "color": "#a8a8a8", "strokeWidth": 1}, "encoding": {}},
{"data": {"name": "rsi"}, "mark": {"type": "line", "color": "#ff52da", "strokeWidth": 1.1},
"encoding": {"y": {"field": "v", "type": "quantitative", "scale": {"domain": [0, 103], "nice": false, "zero": false},
"axis": {"orient": "right", "title": null, "values": [30, 70], "labelExpr": "datum.value==70?'70':''", "grid": true, "gridColor": "#e4e4e4", "domain": false, "ticks": false, "labelColor": "#c8c8c8", "labelFont": "Lato", "labelFontSize": 11, "labelPadding": 6}}}},
{"data": {"name": "mom"}, "mark": {"type": "line", "color": "#ff8c1a", "strokeWidth": 1.2},
"encoding": {"y": {"field": "v", "type": "quantitative"}}},
{"data": {"values": [{"d":"2026-01-17","v":40.0}]}, "mark": {"type": "text", "align": "left", "baseline": "middle", "dx": 8, "color": "#ff52da", "font": "Lato", "fontSize": 11},
"encoding": {"y": {"field": "v", "type": "quantitative"}, "text": {"field": "v", "type": "quantitative", "format": ".1f"}}},
{"data": {"values": [{"d":"2026-01-17","v":16.4}]}, "mark": {"type": "text", "align": "left", "baseline": "middle", "dx": 8, "color": "#ff8c1a", "font": "Lato", "fontSize": 11},
"encoding": {"y": {"field": "v", "type": "quantitative"}, "text": {"field": "v", "type": "quantitative", "format": ".1f"}}},
{"data": {"name": "names"}, "transform": [{"filter": "datum.t == 'Momentum'"}], "mark": {"type": "text", "align": "left", "baseline": "alphabetic", "dx": 4, "dy": 17.5, "color": "#f79a35", "font": "Lato", "fontSize": 11.5},
"encoding": {"y": {"field": "y", "type": "quantitative"}, "text": {"field": "t"}}},
{"data": {"name": "names"}, "transform": [{"filter": "datum.t == 'RSI'"}], "mark": {"type": "text", "align": "left", "baseline": "alphabetic", "dx": 4, "dy": -7, "color": "#f050d0", "font": "Lato", "fontSize": 11.5},
"encoding": {"y": {"field": "y", "type": "quantitative"}, "text": {"field": "t"}}}
]
}
]
}
